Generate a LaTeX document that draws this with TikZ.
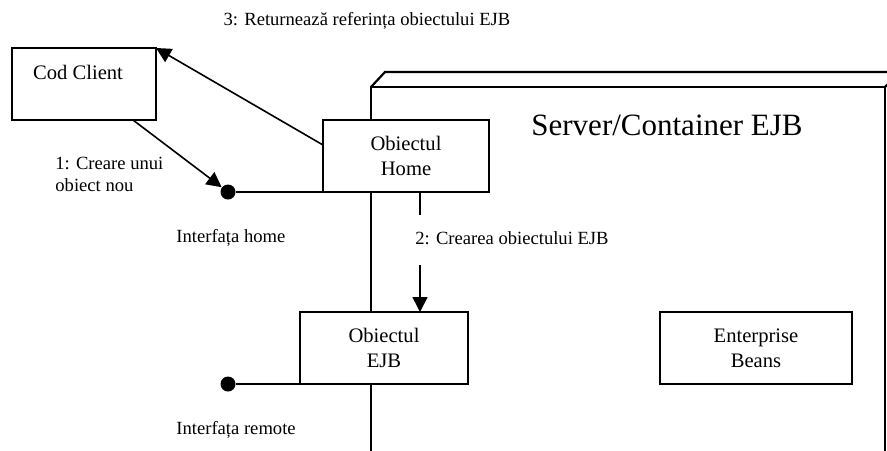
\documentclass[tikz,border=0pt]{standalone}
\usepackage{fontspec}
\setmainfont{Liberation Serif}
\usetikzlibrary{arrows.meta}

\begin{document}
\begin{tikzpicture}[x=0.5pt, y=-0.5pt,
  box/.style={draw, fill=white, line width=0.8pt, align=center, inner sep=0pt,
              outer sep=0pt, font=\fontsize{10.3}{12.5}\selectfont, minimum height=36pt},
  lbl/.style={font=\fontsize{9.3}{11}\selectfont, inner sep=0pt},
  nd/.style={circle, fill=black, inner sep=0pt, minimum size=7.5pt},
  ar/.style={-{Triangle[length=7.5pt, width=7.5pt]}, line width=0.8pt},
  srv/.style={line width=1.1pt}]
\useasboundingbox (0,0) rectangle (887,450);
\clip (0,0) rectangle (887,450);

% ---- server / container ----------------------------------------------
\draw[srv] (371,470) -- (371,87) -- (885,87) -- (885,470);
\draw[srv] (371,87) -- (385,72) -- (910,72);
\draw[srv] (885,87) -- (900,72);
\node[font=\fontsize{15.5}{18}\selectfont, inner sep=0pt] (title) at (667,125)
  {Server/Container EJB};

% ---- client ----------------------------------------------------------
\node[box, anchor=north west, minimum width=72pt] (client) at (12,48) {};
\node[box, draw=none, fill=none] (clienttxt) at (78,72) {Cod Client};

% ---- objects -----------------------------------------------------------
\node[box, minimum width=83pt] (home) at (406,156) {Obiectul\\Home};
\node[box, minimum width=84pt] (ejb) at (384,348) {Obiectul\\EJB};
\node[box, minimum width=96pt] (beans) at (756,348) {Enterprise\\Beans};

% ---- interfaces --------------------------------------------------------
\node[nd] (hdot) at (228,192) {};
\node[nd] (rdot) at (228,384) {};
\draw[line width=0.8pt] (hdot) -- (home.south west);
\draw[line width=0.8pt] (rdot) -- (ejb.south west);
\node[lbl, anchor=west] (hlbl) at (176,238) {Interfața home};
\node[lbl, anchor=west] (rlbl) at (176,430) {Interfața remote};

% ---- messages ----------------------------------------------------------
\draw[ar] ([xshift=-11.5pt]client.south east) -- (hdot);
\node[lbl, anchor=west, align=left] (m1) at (55,174) {1: Creare unui\\obiect nou};

\draw[ar, dash pattern=on 11.5pt off 25pt on 60pt off 1pt]
  ([xshift=7pt]home.south) -- ([xshift=18pt]ejb.north);
\node[lbl, anchor=west] (m2) at (415,238) {2: Crearea obiectului EJB};

\draw[ar] ([yshift=5.5pt]home.west) -- (client.north east);
\node[lbl] (m3) at (367,21) {3: Returnează referința obiectului EJB};
\end{tikzpicture}
\end{document}
